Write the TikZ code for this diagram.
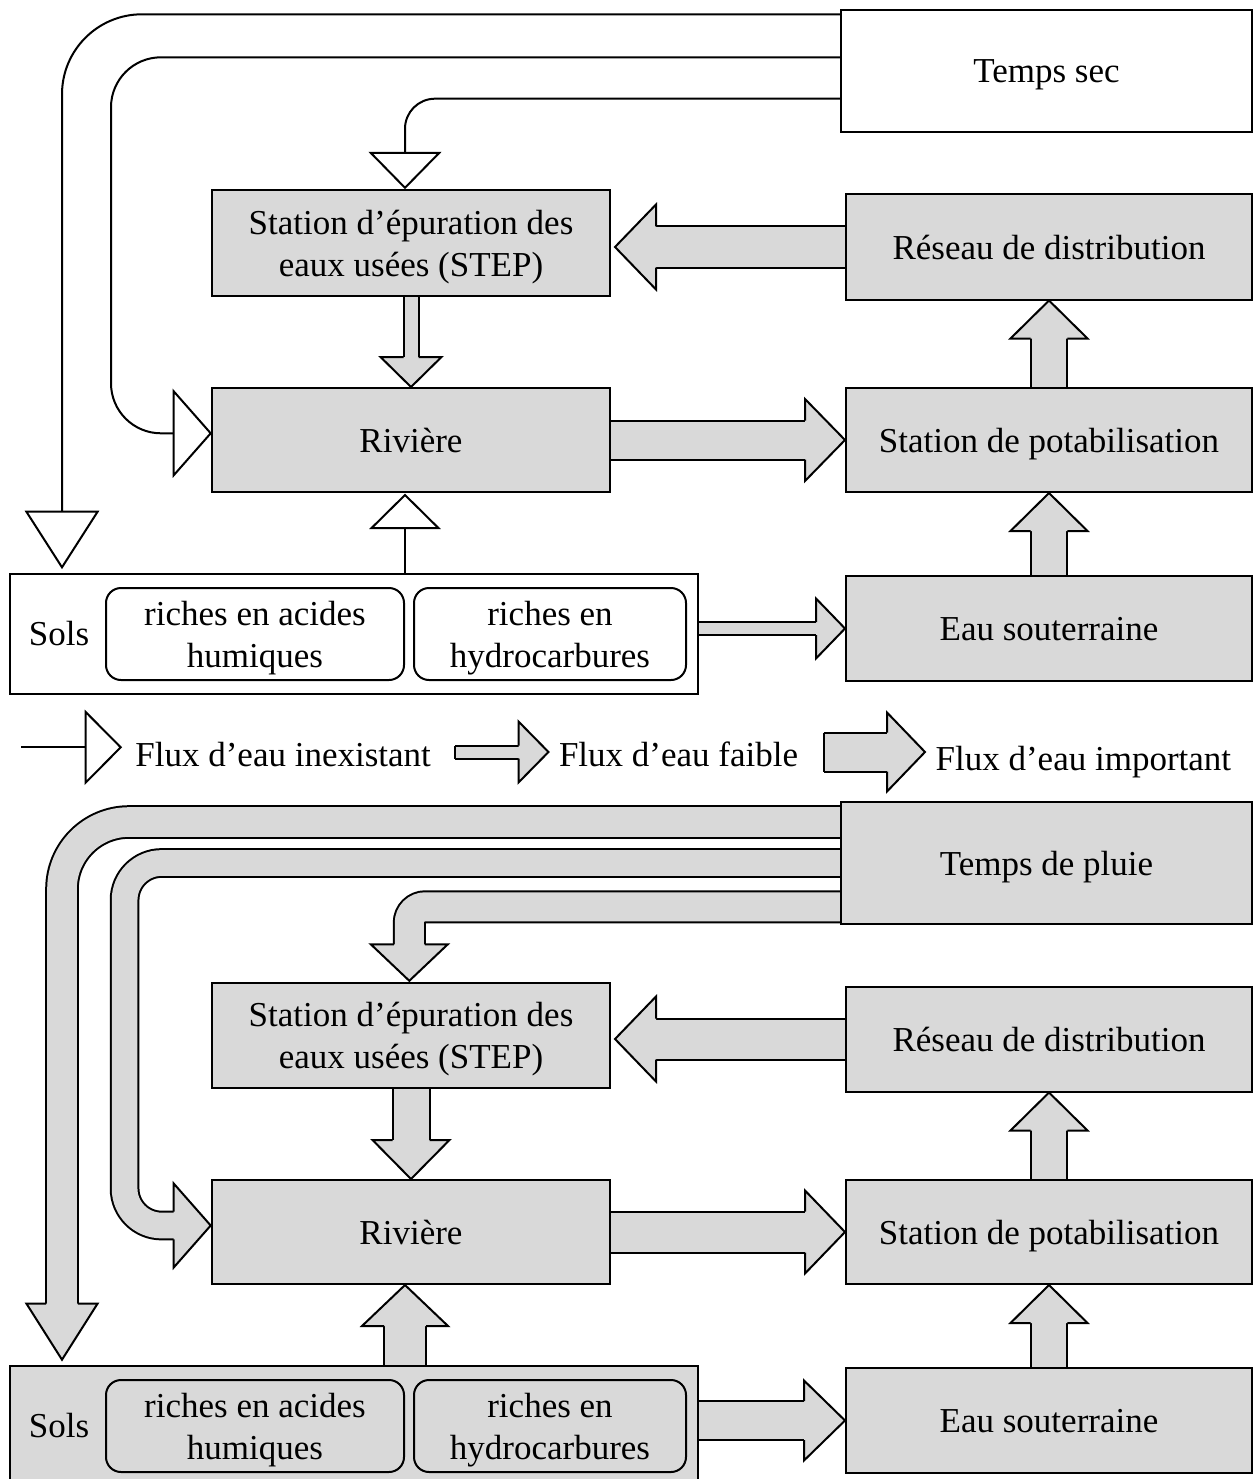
\documentclass[tikz,border=0pt]{standalone}
\usepackage{fontspec}
\setmainfont{Liberation Serif}
\usetikzlibrary{calc, backgrounds}
\definecolor{boxgray}{gray}{0.85}

% tip, point behind, head length, head half width, shaft half width, fill
\newcommand{\flowhead}[6]{%
  \coordinate (fh) at ($(#1)!#3!(#2)$);
  \filldraw[fill=#6, line join=miter] ($(fh)!#5!90:(#2)$) -- ($(fh)!#4!90:(#2)$) -- (#1) -- ($(fh)!#4!-90:(#2)$) -- ($(fh)!#5!-90:(#2)$);
}
\newcommand{\flowtail}[3]{\draw ($(#1)!#3!90:(#2)$) -- ($(#1)!#3!-90:(#2)$);}

\begin{document}
\begin{tikzpicture}[x=1pt, y=-1pt, line width=2pt,
    font=\fontsize{35}{42}\selectfont,
    box/.style={draw, fill=boxgray, inner sep=0pt, align=center, text depth=0pt, minimum width=406pt, minimum height=105pt},
    soil/.style={draw, rounded corners=15pt, inner sep=0pt, align=center, text depth=0pt, minimum height=92pt},
    band/.style={double=boxgray, double distance=#1}]
    \useasboundingbox (0,0) rectangle (1253,1479);

    \foreach \h/\dy/\sky/\fillc in {1/0/Temps sec/white, 2/792/Temps de pluie/boxgray} {
        \node[box, fill=\fillc, minimum width=411pt, minimum height=122pt] (sky\h) at (1046.5,{71+\dy}) {\sky};
        \node[box, minimum width=398pt] (step\h) at (411,{243+\dy}) {Station d’épuration des\\eaux usées (STEP)};
        \node[box] (res\h) at (1049,{247+\dy}) {Réseau de distribution};
        \node[box, minimum width=398pt, minimum height=104pt] (riv\h) at (411,{440+\dy}) {Rivière};
        \node[box, minimum height=104pt] (pot\h) at (1049,{440+\dy}) {Station de potabilisation};
        \node[box] (eau\h) at (1049,{628.5+\dy}) {Eau souterraine};
        \node[box, fill=\fillc, minimum width=688pt, minimum height=120pt] (sols\h) at (354,{634+\dy}) {};
        \node (solsl\h) at (59,{634+\dy}) {Sols};
        \node[soil, fill=\fillc, minimum width=298pt] (acide\h) at (255,{634+\dy}) {riches en acides\\humiques};
        \node[soil, fill=\fillc, minimum width=272pt] (hydro\h) at (550,{634+\dy}) {riches en\\hydrocarbures};
    }

    \node[anchor=base west, inner sep=0pt] (leg1) at (134.4,766) {Flux d’eau inexistant};
    \node[anchor=base west, inner sep=0pt] (leg2) at (558,766) {Flux d’eau faible};
    \node[anchor=base west, inner sep=0pt] (leg3) at (934.6,770) {Flux d’eau important};

    \begin{scope}[on background layer]
    \begin{scope}[line width=2pt]
        % temps sec
        \coordinate (l1s) at ($(sky1.west)+(0,-56.7)$);
        \coordinate (l1t) at ($(sols1.north west)+(53,-5.7)$);
        \coordinate (l1c) at (l1t |- l1s);
        \draw[rounded corners=80pt, shorten >=55.6pt] (l1s) -| (l1t);
        \flowhead{l1t}{l1c}{55.6pt}{35.6pt}{0pt}{white}
        \coordinate (l2s) at ($(sky1.west)+(0,-13.7)$);
        \coordinate (l2t) at ($(riv1.west)+(-0.3,-6.7)$);
        \coordinate (l2c) at ($(l2t)+(-99.7,0)$);
        \draw[rounded corners=50pt, shorten >=37pt] (l2s) -| (l2c) -- (l2t);
        \flowhead{l2t}{l2c}{37pt}{42pt}{0pt}{white}
        \coordinate (l3s) at ($(sky1.west)+(0,27.7)$);
        \coordinate (l3t) at ($(step1.north)+(-6,-1.7)$);
        \coordinate (l3c) at (l3t |- l3s);
        \draw[rounded corners=30pt, shorten >=35pt] (l3s) -| (l3t);
        \flowhead{l3t}{l3c}{35pt}{34.3pt}{0pt}{white}
        \coordinate (l4s) at (sols1.north -| acide1.east);
        \coordinate (l4t) at ($(l4s |- riv1.south)+(0,2)$);
        \draw[shorten >=33pt] (l4s) -- (l4t);
        \flowhead{l4t}{l4s}{33pt}{33.4pt}{0pt}{white}
        \coordinate (a1) at ($(step1.east |- res1.west)+(4,0)$);
        \draw[band=39pt, shorten >=40pt] (res1.west) -- (a1);
        \flowhead{a1}{res1.west}{41pt}{42.5pt}{20.5pt}{boxgray}
        \draw[band=13pt, shorten >=29pt] (step1.south) -- (riv1.north);
        \flowhead{riv1.north}{step1.south}{30pt}{30.5pt}{7.5pt}{boxgray}
        \draw[band=37pt, shorten >=39pt] (riv1.east) -- (pot1.west);
        \flowhead{pot1.west}{riv1.east}{40pt}{41pt}{19.5pt}{boxgray}
        \draw[band=34.6pt, shorten >=37pt] (pot1.north) -- (res1.south);
        \flowhead{res1.south}{pot1.north}{38pt}{38.5pt}{18.3pt}{boxgray}
        \draw[band=34.6pt, shorten >=37pt] (eau1.north) -- (pot1.south);
        \flowhead{pot1.south}{eau1.north}{38pt}{38.5pt}{18.3pt}{boxgray}
        \coordinate (a2) at (sols1.east |- eau1.west);
        \draw[band=11pt, shorten >=28pt] (a2) -- (eau1.west);
        \flowhead{eau1.west}{a2}{29pt}{30pt}{6.5pt}{boxgray}

        % temps de pluie
        \coordinate (b1s) at ($(sky2.west)+(0,-41)$);
        \coordinate (b1t) at ($(sols2.north west)+(53,-5.3)$);
        \coordinate (b1c) at (b1t |- b1s);
        \draw[band=29.6pt, rounded corners=67pt, shorten >=55pt] (b1s) -| (b1t);
        \flowhead{b1t}{b1c}{56pt}{35.5pt}{15.8pt}{boxgray}
        \coordinate (b2s) at (sky2.west);
        \coordinate (b2t) at ($(riv2.west)+(-0.3,-6.5)$);
        \coordinate (b2c) at ($(b2t)+(-86.1,0)$);
        \draw[band=25.7pt, rounded corners=37pt, shorten >=36pt] (b2s) -| (b2c) -- (b2t);
        \flowhead{b2t}{b2c}{37pt}{42pt}{13.9pt}{boxgray}
        \coordinate (b3s) at ($(sky2.west)+(0,43.8)$);
        \coordinate (b3t) at ($(step2.north)+(-1.7,-0.7)$);
        \coordinate (b3c) at (b3t |- b3s);
        \draw[band=29pt, rounded corners=16pt, shorten >=35.5pt] (b3s) -| (b3t);
        \flowhead{b3t}{b3c}{36.5pt}{38.5pt}{15.5pt}{boxgray}
        \coordinate (a3) at ($(step2.east |- res2.west)+(4,0)$);
        \draw[band=39pt, shorten >=40pt] (res2.west) -- (a3);
        \flowhead{a3}{res2.west}{41pt}{42.5pt}{20.5pt}{boxgray}
        \draw[band=35pt, shorten >=38pt] (step2.south) -- (riv2.north);
        \flowhead{riv2.north}{step2.south}{39pt}{38.5pt}{18.5pt}{boxgray}
        \draw[band=39pt, shorten >=39pt] (riv2.east) -- (pot2.west);
        \flowhead{pot2.west}{riv2.east}{40pt}{41.5pt}{20.5pt}{boxgray}
        \draw[band=34.6pt, shorten >=37pt] (pot2.north) -- (res2.south);
        \flowhead{res2.south}{pot2.north}{38pt}{38.5pt}{18.3pt}{boxgray}
        \draw[band=34.6pt, shorten >=37pt] (eau2.north) -- (pot2.south);
        \flowhead{pot2.south}{eau2.north}{38pt}{38.5pt}{18.3pt}{boxgray}
        \coordinate (a4) at (sols2.north -| acide2.east);
        \coordinate (a5) at (a4 |- riv2.south);
        \draw[band=40pt, shorten >=40pt] (a4) -- (a5);
        \flowhead{a5}{a4}{41pt}{43pt}{21pt}{boxgray}
        \coordinate (a6) at (sols2.east |- eau2.west);
        \draw[band=37pt, shorten >=40pt] (a6) -- (eau2.west);
        \flowhead{eau2.west}{a6}{41pt}{40pt}{19.5pt}{boxgray}

        % legende
        \coordinate (k1s) at (21,747.3);
        \coordinate (k1t) at (120.7,747.3);
        \draw[shorten >=35pt] (k1s) -- (k1t);
        \flowhead{k1t}{k1s}{35pt}{35.3pt}{0pt}{white}
        \coordinate (k2s) at (455,752);
        \coordinate (k2t) at (548.5,752);
        \draw[band=11pt, shorten >=29pt] (k2s) -- (k2t);
        \flowhead{k2t}{k2s}{30pt}{30.5pt}{6.5pt}{boxgray}
        \flowtail{k2s}{k2t}{6.5pt}
        \coordinate (k3s) at (823.7,752);
        \coordinate (k3t) at (925,752);
        \draw[band=37pt, shorten >=37pt] (k3s) -- (k3t);
        \flowhead{k3t}{k3s}{38pt}{39.5pt}{19.5pt}{boxgray}
        \flowtail{k3s}{k3t}{19.5pt}
    \end{scope}
    \end{scope}
\end{tikzpicture}
\end{document}
